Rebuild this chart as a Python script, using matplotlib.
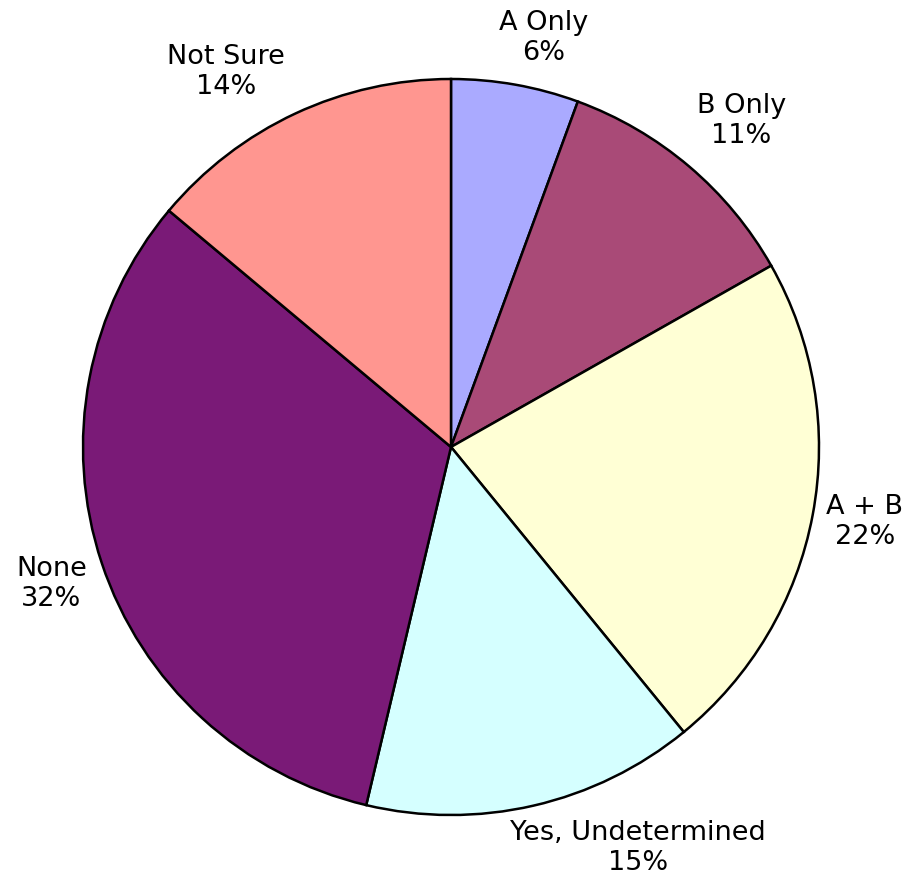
import matplotlib
matplotlib.use("Agg")
import numpy as np
import matplotlib.pyplot as plt

# доли секторов (в процентах), по часовой стрелке от 12 часов
categories = ["A Only", "B Only", "A + B", "Yes, Undetermined", "None", "Not Sure"]
values = [5.6, 11.2, 22.3, 14.6, 32.4, 13.9]
colors = ["#AAAAFF", "#A94A77", "#FFFFD5", "#D5FFFF", "#7A1A77", "#FF9690"]

# положение подписей (в радиусах, относительно центра)
label_xy = [(0.251, 1.111), (0.789, 0.886), (1.124, -0.203),
            (0.508, -1.089), (-1.086, -0.373), (-0.611, 1.019)]

R = 368.0  # радиус в пикселях
W, H = 914, 889
cx, cy = 451, 442  # центр (от низа)

fig = plt.figure(figsize=(W / 100, H / 100), dpi=100)
ax = fig.add_axes([0, 0, 1, 1])

wedges, _ = ax.pie(
    values,
    colors=colors,
    startangle=90,
    counterclock=False,
    wedgeprops=dict(edgecolor="black", linewidth=1.8),
)

for c, v, (x, y) in zip(categories, values, label_xy):
    ax.text(x, y, f"{c}\n{round(v)}%", ha="center", va="center",
            fontsize=19.5, linespacing=1.2, family="DejaVu Sans")

ax.set_xlim(-cx / R, (W - cx) / R)
ax.set_ylim(-cy / R, (H - cy) / R)
ax.set_aspect("equal")
ax.axis("off")

fig.savefig("out.png", dpi=100)
